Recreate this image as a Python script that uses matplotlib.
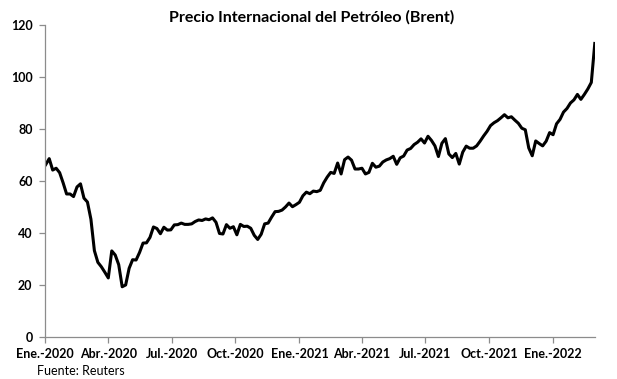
import matplotlib.pyplot as plt
import numpy as np
import pandas as pd

# Brent, one reading every 5 calendar days from 2 Jan 2020 (nearest trading day)
start_date = "2020-01-02"
step_days = 5
brent = [
    66.3, 68.6, 64.2, 64.9, 63.2, 59.3, 55.0, 55.0, 54.0, 57.7,
    58.9, 53.4, 51.9, 45.3, 33.2, 28.7, 27.0, 24.9, 22.7, 33.1,
    31.5, 27.8, 19.3, 20.0, 26.4, 29.7, 29.6, 32.5, 36.1, 36.2,
    38.3, 42.3, 41.7, 39.7, 42.2, 41.1, 41.2, 43.1, 43.2, 43.8,
    43.3, 43.3, 43.5, 44.4, 45.0, 44.8, 45.4, 45.1, 45.8, 44.1,
    39.8, 39.6, 43.2, 41.8, 42.4, 39.3, 43.3, 42.5, 42.6, 41.8,
    39.1, 37.5, 39.5, 43.5, 43.8, 46.1, 48.2, 48.3, 48.8, 50.0,
    51.5, 50.1, 50.9, 51.8, 54.3, 55.7, 55.1, 56.1, 55.9, 56.4,
    59.3, 61.5, 63.3, 62.9, 66.9, 62.7, 68.2, 69.2, 68.0, 64.6,
    64.6, 64.9, 62.7, 63.3, 66.8, 65.3, 65.7, 67.3, 68.1, 68.6,
    69.5, 66.4, 68.9, 69.6, 71.9, 72.5, 74.0, 74.9, 76.2, 74.6,
    77.2, 75.6, 73.5, 69.4, 74.5, 76.3, 70.4, 69.0, 70.6, 66.5,
    71.1, 73.4, 72.6, 72.6, 73.5, 75.3, 77.3, 79.1, 81.3, 82.4,
    83.2, 84.3, 85.5, 84.3, 84.7, 83.4, 82.2, 80.3, 79.7, 72.7,
    69.7, 75.4, 74.4, 73.5, 75.3, 78.6, 77.8, 82.0, 83.7, 86.5,
    87.9, 90.0, 91.2, 93.3, 91.4, 93.3, 95.4, 97.9, 112.9,
]
tick_dates = pd.date_range("2020-01-01", "2022-01-01", freq="QS")
tick_labels = ["Ene.-2020", "Abr.-2020", "Jul.-2020", "Oct.-2020", "Ene.-2021",
               "Abr.-2021", "Jul.-2021", "Oct.-2021", "Ene.-2022"]

dates = pd.Timestamp(start_date) + pd.to_timedelta(np.arange(len(brent)) * step_days, unit="D")

plt.rcParams['font.family'] = ['Lato', 'DejaVu Sans']

fig = plt.figure(figsize=(6.17, 3.79), dpi=100)
ax = fig.add_axes([0.073, 0.111, 0.891, 0.823])

ax.plot(dates, brent, color="black", lw=2.2, solid_joinstyle="round")

ax.set_ylim(0, 120)
ax.set_yticks(range(0, 121, 20))
ax.set_xlim(pd.Timestamp("2020-01-01"), dates[-1])
ax.set_xticks(tick_dates)
ax.set_xticklabels(tick_labels)

for s in ["top", "right"]:
    ax.spines[s].set_visible(False)
for s in ["left", "bottom"]:
    ax.spines[s].set_color("#8c8c8c")
    ax.spines[s].set_linewidth(0.9)
ax.tick_params(colors="#8c8c8c", length=4, width=0.9, labelcolor="black", labelsize=9)
for lab in ax.get_xticklabels() + ax.get_yticklabels():
    lab.set_fontweight("bold")
ax.tick_params(axis="y", pad=5)
ax.tick_params(axis="x", pad=4)

fig.text(0.505, 0.955, "Precio Internacional del Petróleo (Brent)", ha="center", va="center",
         fontsize=11.5, fontweight="bold")
fig.text(0.06, 0.005, "Fuente: Reuters", ha="left", va="bottom", fontsize=9)

fig.savefig("out.png", dpi=100)
